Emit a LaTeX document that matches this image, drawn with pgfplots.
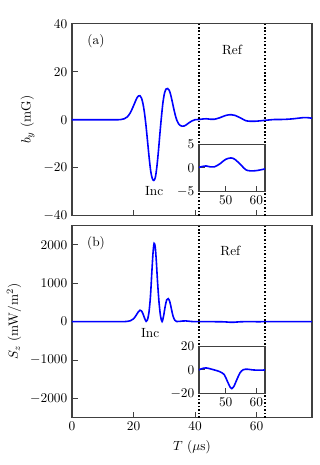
\documentclass[border=0pt]{standalone}
\usepackage{pgfplots}
\pgfplotsset{compat=1.18}

% b_y (mG) versus T (us)
\pgfplotstableread{
t b
0 0
10 0
15 0
16 0.1
17 0.4
18 1.2
19 3
20 5.8
21 8.8
21.6 9.9
22.1 10
22.6 9
23.1 6.5
23.6 2.5
24.1 -3
24.6 -9.5
25.1 -16
25.6 -21.5
26.1 -24.5
26.6 -25.3
27.1 -24
27.6 -19.5
28.1 -13
28.6 -5.5
29.1 1.5
29.6 7.5
30.1 11.2
30.6 12.8
31.1 13
31.6 12.3
32.1 10.3
32.6 7.5
33.1 4.5
33.6 1.8
34.1 -0.3
34.6 -1.6
35.2 -2.4
35.8 -2.7
36.5 -2.6
37.2 -2.1
38 -1.3
39 -0.5
40 0
41.3 0.1
42.5 0.3
43.6 0.4
45 0.2
46.3 0.2
48 0.8
50 1.8
51.7 2.1
53 1.8
55 0.6
56.5 -0.4
58 -0.65
60 -0.6
62 -0.35
64 -0.1
66 0.1
68 0.1
70 0.2
72 0.4
74 0.7
75.5 0.9
77 0.8
78 0.6
}\bydata

% S_z (mW/m^2) versus T (us)
\pgfplotstableread{
t s
0 0
16 0
17 2
18 8
19 25
20 75
20.8 160
21.5 250
22.1 300
22.6 280
23.1 200
23.6 90
24.1 10
24.5 40
25 230
25.5 650
26 1350
26.35 1800
26.7 2040
27.05 1950
27.4 1600
27.8 1050
28.3 500
28.8 140
29.3 5
29.8 160
30.3 400
30.8 570
31.3 600
31.8 520
32.3 340
32.8 160
33.4 40
34 5
35 8
36 18
37 20
38 12
39 4
40 0
41.3 0
42.5 1.2
43.6 1.6
45 0.8
46.5 -0.3
48 -1.5
49.5 -4
50.5 -9.5
51.5 -15
52 -16
52.7 -14
53.7 -8
54.7 -2.5
55.7 0
57 0.5
58.5 0
60 -0.3
62.8 -0.2
65 0
78 0
}\szdata

\begin{document}
\begin{tikzpicture}
\pgfplotsset{
  every axis/.append style={
    scale only axis,
    axis line style={line width=0.9pt, black!75},
    tick style={line width=0.8pt, black!75},
    tick align=inside,
    tick pos=left,
    /pgf/number format/1000 sep={},
  },
  curve/.style={blue, line width=1.2pt, smooth, no markers},
  refline/.style={black, line width=1.2pt, dash pattern=on 1.2pt off 1.4pt},
}
% page margins as in the reference
\path[use as bounding box] (-54pt,-35.5pt) rectangle (186pt,313.3pt);
% top panel
\begin{axis}[
  at={(0,151.5pt)}, anchor=south west,
  width=180pt, height=144pt,
  xmin=0, xmax=78, ymin=-40, ymax=40,
  xtick={20,40,60}, xticklabels={},
  ytick={-40,-20,0,20,40},
  ylabel={$b_y$ (mG)},
  clip=false,
]
\addplot[curve] table[x=t, y=b] {\bydata};
\addplot[refline] coordinates {(41.3,-40) (41.3,40)};
\addplot[refline] coordinates {(62.8,-40) (62.8,40)};
\node at (rel axis cs:0.1,0.91) {(a)};
\node at (rel axis cs:0.667,0.865) {Ref};
\node at (axis cs:26.7,-29.6) {Inc};
\end{axis}
% bottom panel
\begin{axis}[
  at={(0,0)}, anchor=south west,
  width=180pt, height=144pt,
  xmin=0, xmax=78, ymin=-2500, ymax=2500,
  xtick={0,20,40,60},
  ytick={-2000,-1000,0,1000,2000},
  scaled y ticks=false,
  xlabel={$T$ ($\mu$s)},
  ylabel={$S_z$ (mW/m$^2$)},
  clip=false,
]
\addplot[curve] table[x=t, y=s] {\szdata};
\addplot[refline] coordinates {(41.3,-2500) (41.3,2500)};
\addplot[refline] coordinates {(62.8,-2500) (62.8,2500)};
\node at (rel axis cs:0.1,0.91) {(b)};
\node at (rel axis cs:0.66,0.87) {Ref};
\node at (axis cs:25.4,-300) {Inc};
\end{axis}
% inset (a)
\begin{axis}[
  at={(95.25pt,169.8pt)}, anchor=south west,
  width=49.5pt, height=35.25pt,
  xmin=41.3, xmax=62.8, ymin=-5, ymax=5,
  xtick={50,60}, ytick={-5,0,5},
  axis background/.style={fill=white},
]
\addplot[curve] table[x=t, y=b] {\bydata};
\end{axis}
% inset (b)
\begin{axis}[
  at={(95.25pt,18.3pt)}, anchor=south west,
  width=49.5pt, height=35.25pt,
  xmin=41.3, xmax=62.8, ymin=-20, ymax=20,
  xtick={50,60}, ytick={-20,0,20},
  axis background/.style={fill=white},
]
\addplot[curve] table[x=t, y=s] {\szdata};
\end{axis}
\end{tikzpicture}
\end{document}
